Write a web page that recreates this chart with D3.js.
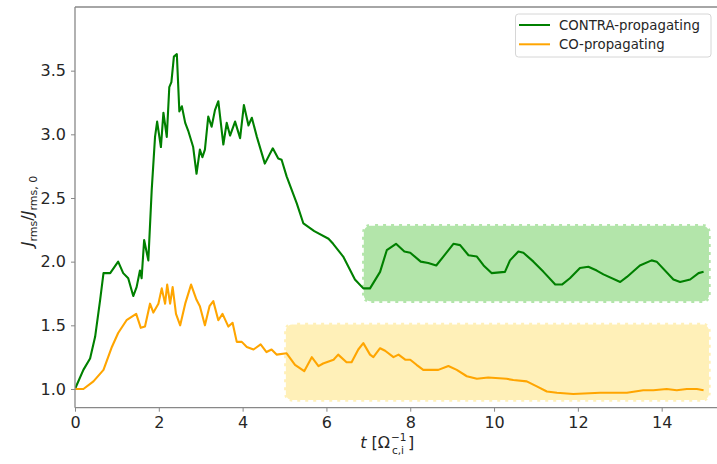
<!DOCTYPE html>
<html>
<head>
<meta charset="utf-8">
<script src="https://cdn.jsdelivr.net/npm/d3@7"></script>
<style>
  html, body { margin: 0; padding: 0; background: #fff; }
  svg { display: block; font-family: "DejaVu Sans", sans-serif; }
</style>
</head>
<body>
<svg id="chart" width="717" height="464"></svg>
<script>
// Normalised current density J_rms / J_rms,0 versus time for two beam set-ups
const contraT = [0, 0.2, 0.36, 0.48, 0.6, 0.68, 0.84, 1.03, 1.15, 1.27, 1.39, 1.47, 1.55, 1.59, 1.65, 1.75, 1.83, 1.91, 1.96, 2.05, 2.11, 2.19, 2.25, 2.30, 2.36, 2.43, 2.49, 2.55, 2.63, 2.70, 2.82, 2.90, 2.98, 3.04, 3.10, 3.18, 3.26, 3.34, 3.42, 3.54, 3.62, 3.70, 3.82, 3.94, 4.03, 4.14, 4.22, 4.34, 4.53, 4.72, 4.85, 4.93, 5.05, 5.29, 5.45, 5.71, 6.05, 6.16, 6.40, 6.68, 6.88, 7.04, 7.28, 7.44, 7.66, 7.86, 8.0, 8.25, 8.43, 8.62, 8.79, 9.03, 9.19, 9.39, 9.59, 9.75, 9.94, 10.26, 10.38, 10.58, 10.70, 10.94, 11.18, 11.46, 11.62, 11.81, 12.05, 12.25, 12.45, 12.61, 13.01, 13.17, 13.48, 13.76, 13.88, 14.28, 14.44, 14.68, 14.88, 15.0];
const contraJ = [1.0, 1.15, 1.24, 1.41, 1.70, 1.91, 1.91, 2.0, 1.91, 1.87, 1.73, 1.80, 1.93, 1.87, 2.17, 2.01, 2.56, 2.98, 3.10, 2.90, 3.17, 2.98, 3.37, 3.41, 3.61, 3.63, 3.18, 3.22, 3.09, 3.03, 2.90, 2.69, 2.88, 2.82, 2.88, 3.14, 3.06, 3.19, 3.26, 2.92, 3.09, 2.99, 3.10, 2.97, 3.23, 3.07, 3.13, 2.98, 2.77, 2.89, 2.81, 2.80, 2.67, 2.46, 2.30, 2.24, 2.18, 2.14, 2.04, 1.86, 1.79, 1.79, 1.92, 2.09, 2.14, 2.08, 2.07, 2.0, 1.99, 1.97, 2.04, 2.14, 2.13, 2.05, 2.04, 1.97, 1.91, 1.92, 2.01, 2.08, 2.07, 2.00, 1.92, 1.82, 1.82, 1.87, 1.95, 1.96, 1.93, 1.90, 1.84, 1.88, 1.97, 2.01, 2.0, 1.86, 1.84, 1.86, 1.91, 1.92];

const coT = [0, 0.2, 0.44, 0.68, 0.88, 1.03, 1.23, 1.46, 1.57, 1.67, 1.79, 1.87, 1.99, 2.07, 2.15, 2.20, 2.27, 2.33, 2.41, 2.51, 2.63, 2.77, 2.90, 2.98, 3.10, 3.21, 3.30, 3.42, 3.52, 3.66, 3.76, 3.86, 3.98, 4.10, 4.26, 4.43, 4.57, 4.69, 4.81, 5.05, 5.25, 5.47, 5.65, 5.81, 5.92, 6.17, 6.28, 6.48, 6.60, 6.76, 6.88, 7.04, 7.12, 7.28, 7.40, 7.60, 7.72, 7.88, 8.0, 8.15, 8.31, 8.55, 8.67, 8.91, 9.11, 9.35, 9.59, 9.86, 10.30, 10.46, 10.78, 11.02, 11.26, 11.50, 11.89, 12.53, 13.17, 13.56, 13.80, 14.12, 14.36, 14.60, 14.84, 15.0];
const coJ = [1.0, 1.0, 1.06, 1.15, 1.33, 1.44, 1.54, 1.59, 1.48, 1.49, 1.67, 1.60, 1.67, 1.79, 1.67, 1.82, 1.67, 1.80, 1.59, 1.50, 1.67, 1.82, 1.70, 1.65, 1.50, 1.65, 1.69, 1.54, 1.59, 1.49, 1.52, 1.37, 1.37, 1.33, 1.31, 1.35, 1.29, 1.31, 1.27, 1.28, 1.19, 1.14, 1.25, 1.18, 1.20, 1.23, 1.27, 1.21, 1.21, 1.31, 1.36, 1.27, 1.25, 1.32, 1.30, 1.25, 1.27, 1.23, 1.23, 1.19, 1.15, 1.15, 1.15, 1.18, 1.15, 1.10, 1.08, 1.09, 1.08, 1.07, 1.06, 1.02, 0.98, 0.97, 0.96, 0.97, 0.97, 0.99, 0.99, 1.00, 0.99, 1.00, 1.00, 0.99];

// Highlighted saturated windows: [t0, t1, J0, J1]
const contraWindow = [6.85, 15.17, 1.675, 2.295];
const coWindow = [4.99, 15.17, 0.9, 1.52];

const xTicks = [0, 2, 4, 6, 8, 10, 12, 14];
const yTicks = [1.0, 1.5, 2.0, 2.5, 3.0, 3.5];
const seriesNames = ["CONTRA-propagating", "CO-propagating"];
const seriesColors = ["#008000", "#ffa500"];

const svg = d3.select("#chart");
const W = 717, H = 464;
const padLeft = 75, padTop = 7, axisBottom = 407.7;

const x = d3.scaleLinear().domain([0, 15.32]).range([padLeft, W]);
const y = d3.scaleLinear().domain([0.853, 4.0]).range([axisBottom, padTop]);

svg.append("defs").append("clipPath").attr("id", "plot")
  .append("rect").attr("x", padLeft).attr("y", padTop)
  .attr("width", W - padLeft).attr("height", axisBottom - padTop);

const plot = svg.append("g").attr("clip-path", "url(#plot)");

// Shaded windows with a white dashed outline
function windowBox(w, fill) {
  plot.append("rect")
    .attr("x", x(w[0])).attr("y", y(w[3]))
    .attr("width", x(w[1]) - x(w[0])).attr("height", y(w[2]) - y(w[3]))
    .attr("rx", 8).attr("ry", 8)
    .attr("fill", fill)
    .attr("stroke", "#fff").attr("stroke-width", 3.5)
    .attr("stroke-dasharray", "5,3");
}
windowBox(contraWindow, "#b3e5aa");
windowBox(coWindow, "#fff0b8");

const line = d3.line().x(d => x(d[0])).y(d => y(d[1]));
const series = [d3.zip(contraT, contraJ), d3.zip(coT, coJ)];
series.forEach((s, i) => {
  plot.append("path").datum(s)
    .attr("d", line)
    .attr("fill", "none")
    .attr("stroke", seriesColors[i])
    .attr("stroke-width", 2.1)
    .attr("stroke-linejoin", "round");
});

// Axes
const spine = "#888";
const xAxis = svg.append("g").attr("transform", `translate(0,${axisBottom})`)
  .call(d3.axisBottom(x).tickValues(xTicks).tickFormat(d3.format("d")).tickSize(4).tickPadding(5));
const yAxis = svg.append("g").attr("transform", `translate(${padLeft},0)`)
  .call(d3.axisLeft(y).tickValues(yTicks).tickFormat(d3.format(".1f")).tickSize(4).tickPadding(5));
[xAxis, yAxis].forEach(a => {
  a.select(".domain").remove();
  a.selectAll(".tick line").attr("stroke", spine).attr("stroke-width", 1);
  a.selectAll(".tick text").attr("fill", "#262626").attr("font-size", 16)
    .attr("font-family", "DejaVu Sans, sans-serif");
});

svg.append("line").attr("x1", padLeft).attr("x2", W).attr("y1", axisBottom).attr("y2", axisBottom)
  .attr("stroke", spine).attr("stroke-width", 1.3);
svg.append("line").attr("x1", padLeft).attr("x2", W).attr("y1", padTop).attr("y2", padTop)
  .attr("stroke", spine).attr("stroke-width", 1.3);
svg.append("line").attr("x1", padLeft).attr("x2", padLeft).attr("y1", padTop).attr("y2", axisBottom)
  .attr("stroke", spine).attr("stroke-width", 1.3);

// Axis titles: t [Ω with stacked −1 / c,i scripts, then ]
const xBase = 448;
const xl = svg.append("g").attr("fill", "#262626");
xl.append("text").attr("x", 390).attr("y", xBase).attr("text-anchor", "end").attr("font-size", 16)
  .html('<tspan font-style="italic">t</tspan> [Ω');
xl.append("text").attr("x", 391).attr("y", xBase - 7).attr("font-size", 10.5).text("−1");
xl.append("text").attr("x", 392).attr("y", xBase + 6).attr("font-size", 10.5).text("c,i");
xl.append("text").attr("x", 408).attr("y", xBase).attr("font-size", 16).text("]");

const yl = svg.append("text")
  .attr("transform", "translate(33,211) rotate(-90)")
  .attr("text-anchor", "middle").attr("font-size", 16).attr("fill", "#262626");
yl.append("tspan").attr("font-style", "italic").text("J");
yl.append("tspan").attr("font-size", 11).attr("dy", 4).text("rms");
yl.append("tspan").attr("dy", -4).text("/");
yl.append("tspan").attr("font-style", "italic").text("J");
yl.append("tspan").attr("font-size", 11).attr("dy", 4).text("rms, 0");

// Legend
const lg = svg.append("g");
lg.append("rect").attr("x", 515.5).attr("y", 14).attr("width", 195.5).attr("height", 43)
  .attr("rx", 3).attr("fill", "#fff").attr("stroke", "#d6d6d6").attr("stroke-width", 1);
seriesNames.forEach((name, i) => {
  const yy = 25 + i * 19.3;
  lg.append("line").attr("x1", 519).attr("x2", 550).attr("y1", yy).attr("y2", yy)
    .attr("stroke", seriesColors[i]).attr("stroke-width", 2);
  lg.append("text").attr("x", 559).attr("y", yy + 4.6).attr("font-size", 13.3)
    .attr("fill", "#262626").text(name);
});
</script>
</body>
</html>
